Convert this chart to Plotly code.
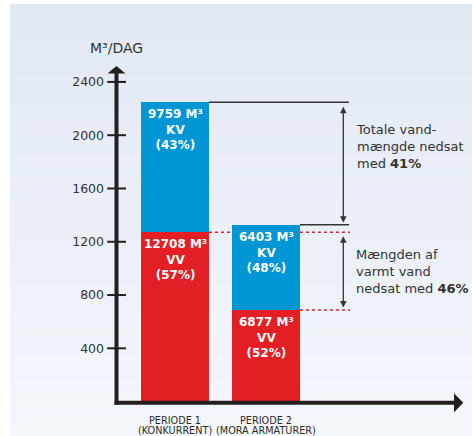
import plotly.graph_objects as go

# ---------------- data ----------------
period_names = ["PERIODE 1", "PERIODE 2"]
period_sub = ["(KONKURRENT)", "(MORA ARMATURER)"]
vv_per_day = [1271, 688]      # varmt vand (red)
kv_per_day = [976, 640]       # koldt vand (blue)
vv_labels = ["12708 M³<br>VV<br>(57%)", "6877 M³<br>VV<br>(52%)"]
kv_labels = ["9759 M³<br>KV<br>(43%)", "6403 M³<br>KV<br>(48%)"]
y_ticks = [400, 800, 1200, 1600, 2000, 2400]
axis_title = "M³/DAG"
note_total = "Totale vand-<br>mængde nedsat<br>med <b>41%</b>"
note_hot = "Mængden af<br>varmt vand<br>nedsat med <b>46%</b>"

# ---------------- geometry / style ----------------
W, H = 473, 436
X0PX, XSTEP = 175.0, 91.0          # pixel of first bar centre, pixels per category
Y0PX, YSCALE = 401.6, 0.1332       # pixel of value 0, pixels per unit
BW = 68 / XSTEP
RED, BLUE = "#e31e25", "#0096d6"
DARK = "#231f20"
TXT = "#333333"
FONT = "DejaVu Sans"


def xd(px):
    return (px - X0PX) / XSTEP


def yd(py):
    return (Y0PX - py) / YSCALE


AXX = xd(116.5)
xpos = list(range(len(period_names)))
totals = [a + b for a, b in zip(vv_per_day, kv_per_day)]

fig = go.Figure()
fig.add_trace(go.Bar(x=xpos, y=vv_per_day, width=BW, marker=dict(color=RED, line=dict(width=0)),
                     hoverinfo="skip", showlegend=False))
fig.add_trace(go.Bar(x=xpos, y=kv_per_day, width=BW, marker=dict(color=BLUE, line=dict(width=0)),
                     hoverinfo="skip", showlegend=False))

shapes = []
# background gradient panel
n = 60
top_c, bot_c = (0xE1, 0xE8, 0xF4), (0xF4, 0xF7, 0xFC)
py0, py1 = 4, H
for k in range(n):
    t = (k + 0.5) / n
    c = tuple(round(top_c[j] + (bot_c[j] - top_c[j]) * t) for j in range(3))
    a = py0 + (py1 - py0) * k / n
    b = py0 + (py1 - py0) * (k + 1) / n + 0.5
    shapes.append(dict(type="rect", xref="paper", yref="paper", x0=10 / W, x1=472 / W,
                       y0=1 - b / H, y1=1 - a / H, fillcolor="rgb(%d,%d,%d)" % c,
                       line=dict(width=0), layer="below"))

# axes
shapes.append(dict(type="line", xref="x", yref="y", x0=AXX, x1=AXX, y0=yd(404.8), y1=yd(73),
                   line=dict(color=DARK, width=4), layer="above"))
shapes.append(dict(type="line", xref="x", yref="y", x0=xd(114.5), x1=xd(455), y0=yd(402.8), y1=yd(402.8),
                   line=dict(color=DARK, width=4), layer="above"))
shapes.append(dict(type="path", xref="x", yref="y", xsizemode="pixel", ysizemode="pixel",
                   xanchor=AXX, yanchor=yd(73.5), path="M -9,0 L 9,0 L 0,7.5 Z",
                   fillcolor=DARK, line=dict(width=0), layer="above"))
shapes.append(dict(type="path", xref="x", yref="y", xsizemode="pixel", ysizemode="pixel",
                   xanchor=xd(454), yanchor=yd(402.8), path="M 0,-9.5 L 0,9.5 L 9.3,0 Z",
                   fillcolor=DARK, line=dict(width=0), layer="above"))
for tv in y_ticks:
    shapes.append(dict(type="line", xref="x", yref="y", xsizemode="pixel", xanchor=AXX,
                       x0=-9.3, x1=9.5, y0=tv, y1=tv, line=dict(color=DARK, width=2), layer="above"))

# reference lines at totals
for i, tot in enumerate(totals):
    shapes.append(dict(type="line", xref="x", yref="y", x0=xpos[i] + BW / 2, x1=xd(349),
                       y0=tot, y1=tot, line=dict(color=TXT, width=1.5)))
# red dotted lines at hot water levels
shapes.append(dict(type="line", xref="x", yref="y", x0=xpos[0] + BW / 2, x1=xpos[1] - BW / 2,
                   y0=vv_per_day[0], y1=vv_per_day[0], line=dict(color=RED, width=1.5, dash="dot")))
for v in vv_per_day:
    shapes.append(dict(type="line", xref="x", yref="y", x0=xpos[1] + BW / 2, x1=xd(350),
                       y0=v, y1=v, line=dict(color=RED, width=1.5, dash="dot")))

annotations = []
# bar labels
for i in xpos:
    annotations.append(dict(x=xpos[i], y=vv_per_day[i], xref="x", yref="y", text=vv_labels[i],
                            showarrow=False, yanchor="top", xanchor="center", yshift=-3,
                            font=dict(family=FONT, size=12, color="white", weight="bold")))
    annotations.append(dict(x=xpos[i], y=totals[i], xref="x", yref="y", text=kv_labels[i],
                            showarrow=False, yanchor="top", xanchor="center", yshift=-3,
                            font=dict(family=FONT, size=12, color="white", weight="bold")))
    annotations.append(dict(x=xpos[i], y=0, xref="x", yref="y", text=period_names[i],
                            showarrow=False, yanchor="middle", xanchor="center", yshift=-(420 - Y0PX),
                            font=dict(family=FONT, size=9.7, color="#2a2a2a")))
    annotations.append(dict(x=xpos[i], y=0, xref="x", yref="y", text=period_sub[i],
                            showarrow=False, yanchor="middle", xanchor="center", yshift=-(430.5 - Y0PX),
                            font=dict(family=FONT, size=9.7, color="#2a2a2a")))

# axis title
annotations.append(dict(x=116 / W, y=1 - 48 / H, xref="paper", yref="paper", text=axis_title,
                        showarrow=False, xanchor="center", yanchor="middle",
                        font=dict(family=FONT, size=14, color=TXT)))

# double arrows
AX = xd(343.3)
annotations.append(dict(x=AX, y=totals[1], ax=AX, ay=totals[0], xref="x", yref="y",
                        axref="x", ayref="y", text="", showarrow=True, arrowside="end+start",
                        arrowhead=2, startarrowhead=2, arrowsize=1, startarrowsize=1,
                        arrowwidth=1.3, arrowcolor=TXT, standoff=2, startstandoff=3))
annotations.append(dict(x=AX, y=vv_per_day[1], ax=AX, ay=vv_per_day[0], xref="x", yref="y",
                        axref="x", ayref="y", text="", showarrow=True, arrowside="end+start",
                        arrowhead=2, startarrowhead=2, arrowsize=1, startarrowsize=1,
                        arrowwidth=1.3, arrowcolor=TXT, standoff=2.5, startstandoff=2.5))

# notes
annotations.append(dict(x=354 / W, y=1 - 146.7 / H, xref="paper", yref="paper", text=note_total,
                        showarrow=False, xanchor="left", yanchor="middle", align="left",
                        font=dict(family=FONT, size=13, color=TXT)))
annotations.append(dict(x=354 / W, y=1 - 271 / H, xref="paper", yref="paper", text=note_hot,
                        showarrow=False, xanchor="left", yanchor="middle", align="left",
                        font=dict(family=FONT, size=13, color=TXT)))

fig.update_layout(
    width=W, height=H, autosize=False,
    margin=dict(l=0, r=0, t=0, b=0, pad=0),
    paper_bgcolor="white", plot_bgcolor="rgba(0,0,0,0)",
    barmode="stack", bargap=0,
    showlegend=False,
    shapes=shapes, annotations=annotations,
    xaxis=dict(range=[xd(0), xd(W)], visible=False, fixedrange=True),
    yaxis=dict(range=[yd(H), yd(0)], anchor="free", position=116.5 / W,
               tickmode="array", tickvals=y_ticks, ticks="outside", ticklen=10,
               tickcolor="rgba(0,0,0,0)", showgrid=False, zeroline=False, showline=False,
               tickfont=dict(family=FONT, size=12.5, color=TXT), fixedrange=True),
)

fig.write_html("out.html", config={"displayModeBar": False},
               post_script="document.body.style.margin='0';document.body.style.overflow='hidden';")
